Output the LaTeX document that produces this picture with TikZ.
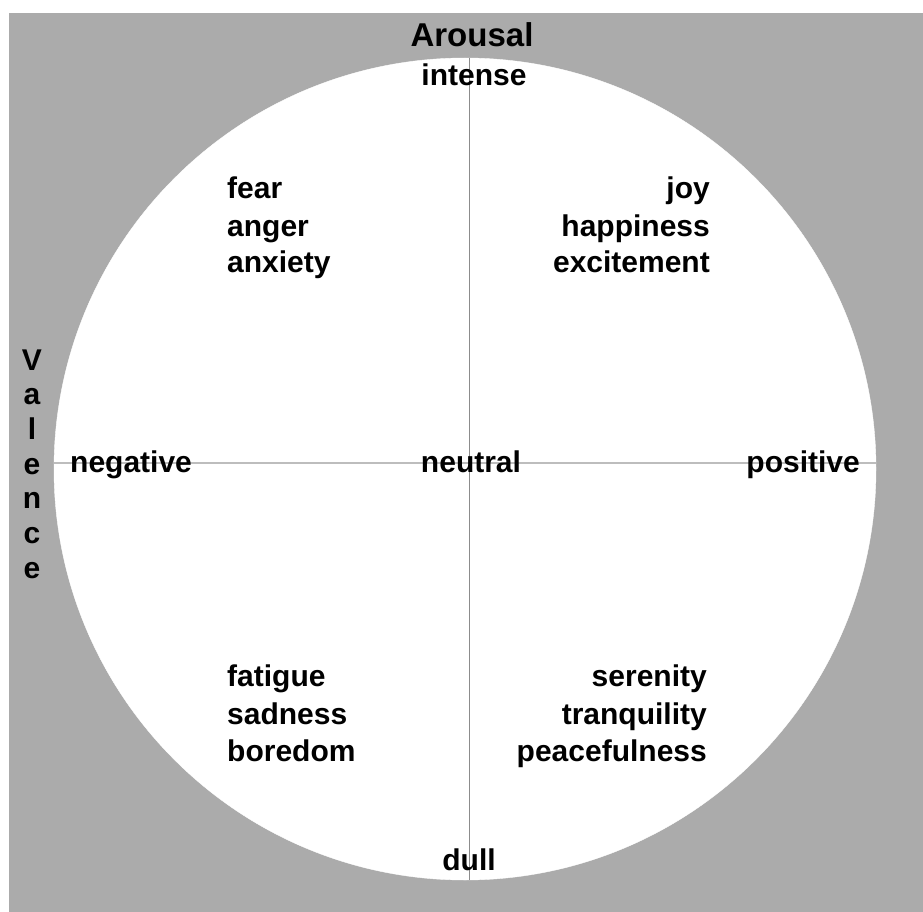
\documentclass[tikz,border=0pt]{standalone}
\usepackage{fontspec}
\setmainfont{Liberation Sans}
\usetikzlibrary{positioning}

\definecolor{frameGrey}{HTML}{ABABAB}
\definecolor{axisGrey}{HTML}{BDBDBD}

\tikzset{
	wordLabel/.style={font=\bfseries\fontsize{30}{36}\selectfont, inner sep=0pt, text=black},
	axisLine/.style={draw=axisGrey, line width=1.4pt}
}

\begin{document}
\begin{tikzpicture}[x=1pt, y=-1pt]

	%page and grey frame, pixel units with y pointing down
	\useasboundingbox (0,0) rectangle (923,912);
	\fill[white] (0,0) rectangle (923,912);
	\fill[frameGrey] (9,13) rectangle (923,912);

	%the white disc
	\coordinate (centre) at (465,469);
	\filldraw[white] (centre) circle (411);

	%axis end points on the disc
	\coordinate (axisTop) at (469,58);
	\coordinate (axisBottom) at (469,880);
	\coordinate (axisLeft) at (54,463);
	\coordinate (axisRight) at (876,463);

	%axes
	\draw[axisLine] (axisLeft) -- (axisRight);
	\draw[axisLine, draw=black!45, line width=0.9pt] (axisTop) -- (axisBottom);

	%axis titles
	\node[wordLabel, anchor=base, font=\bfseries\fontsize{33}{36}\selectfont] (arousalTitle) at (472,47) {Arousal};
	\foreach \letter [count=\i from 0] in {V,a,l,e,n,c,e}
		\node[wordLabel, anchor=base] (valence\i) at (32,{370+34.7*\i}) {\letter};

	%scale labels
	\node[wordLabel, anchor=base] (intenseLabel) at (474,86) {intense};
	\node[wordLabel, anchor=base] (dullLabel) at (469,870) {dull};
	\node[wordLabel, anchor=base west] (negativeLabel) at (70,472) {negative};
	\node[wordLabel, anchor=base] (neutralLabel) at (471,472) {neutral};
	\node[wordLabel, anchor=base east] (positiveLabel) at (860,472) {positive};

	%upper left quadrant
	\node[wordLabel, anchor=base west] (fearLabel) at (227,199) {fear};
	\node[wordLabel, anchor=base west] (angerLabel) at (227,236) {anger};
	\node[wordLabel, anchor=base west] (anxietyLabel) at (227,272) {anxiety};

	%upper right quadrant
	\node[wordLabel, anchor=base east] (joyLabel) at (710,199) {joy};
	\node[wordLabel, anchor=base east] (happinessLabel) at (710,236) {happiness};
	\node[wordLabel, anchor=base east] (excitementLabel) at (710,272) {excitement};

	%lower left quadrant
	\node[wordLabel, anchor=base west] (fatigueLabel) at (227,686) {fatigue};
	\node[wordLabel, anchor=base west] (sadnessLabel) at (227,724) {sadness};
	\node[wordLabel, anchor=base west] (boredomLabel) at (227,761) {boredom};

	%lower right quadrant
	\node[wordLabel, anchor=base east] (serenityLabel) at (707,686) {serenity};
	\node[wordLabel, anchor=base east] (tranquilityLabel) at (707,724) {tranquility};
	\node[wordLabel, anchor=base east] (peacefulnessLabel) at (707,761) {peacefulness};

\end{tikzpicture}
\end{document}
